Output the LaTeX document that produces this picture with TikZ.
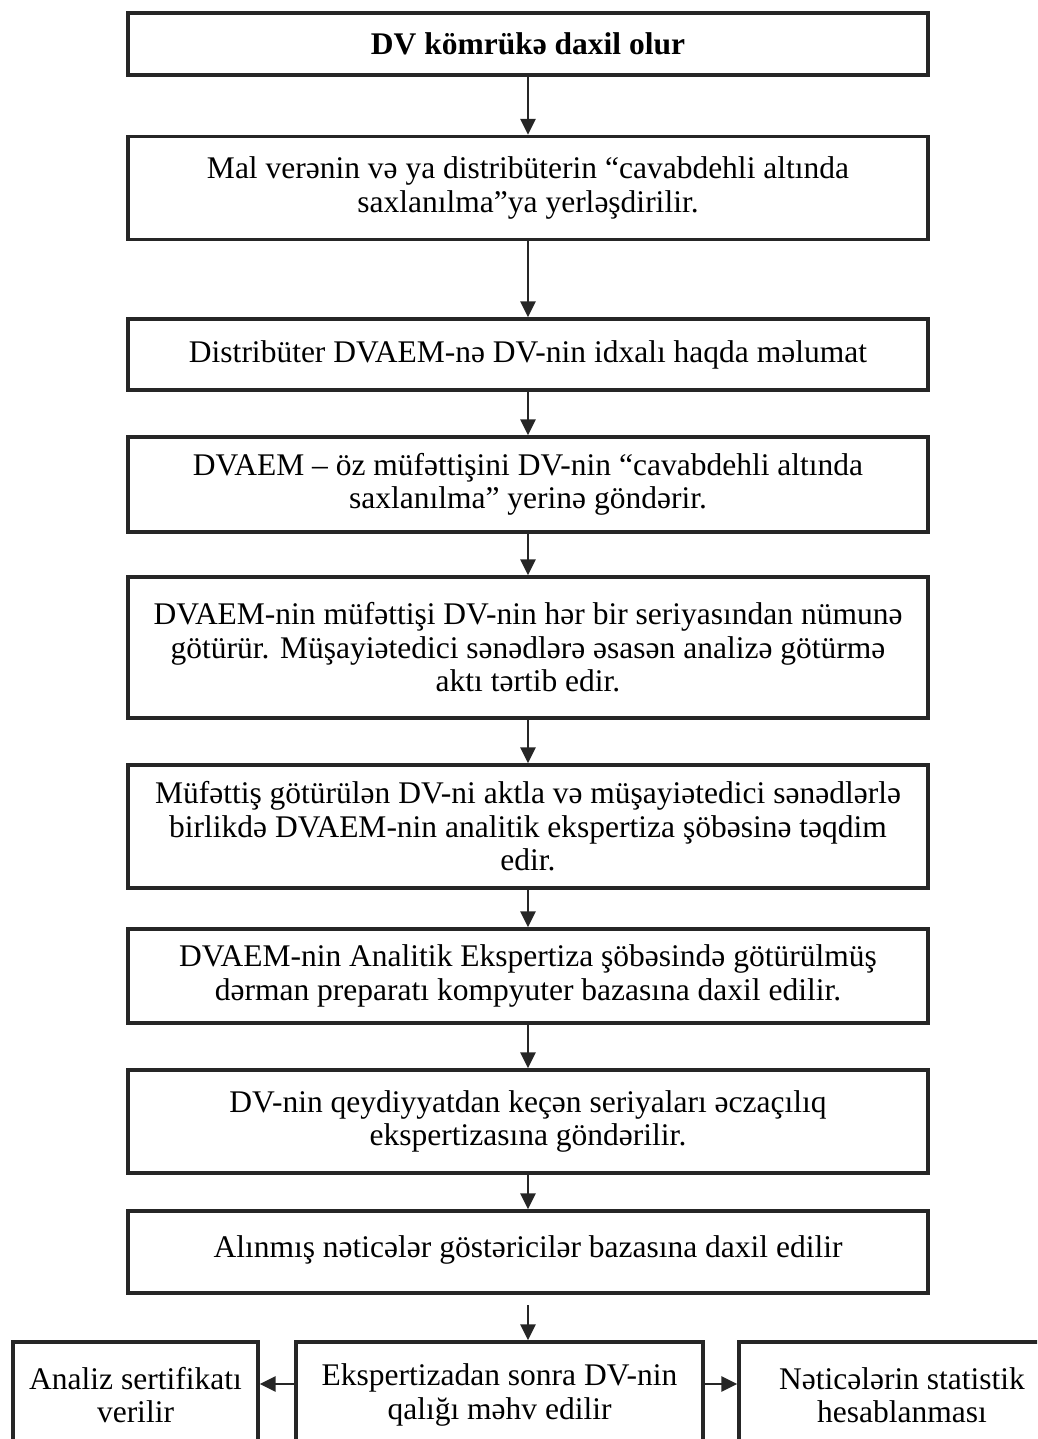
\documentclass[tikz,border=0pt]{standalone}
\usepackage{fontspec}
\setmainfont{Liberation Serif}
\usetikzlibrary{arrows.meta}
\begin{document}
\begin{tikzpicture}[x=1pt,y=-1pt,
  box/.style={draw=black!85, line width=3.4pt, minimum width=800pt, align=center, inner sep=0pt,
    font=\fontsize{31.5}{33.5}\selectfont},
  arr/.style={draw=black!85, line width=2.8pt, -{Triangle[length=16pt,width=15pt]}}]
\useasboundingbox (0,0) rectangle (1037,1439);
\clip (0,0) rectangle (1037,1439);
\node[box, minimum height=62pt] (b1) at (528,44) {\textbf{DV kömrükə daxil olur}};
\node[box, minimum height=103pt] (b2) at (528,188) {Mal verənin və ya distribüterin “cavabdehli altında\\saxlanılma”ya yerləşdirilir.};
\node[box, minimum height=71pt] (b3) at (528,354.5) {Distribüter DVAEM-nə DV-nin idxalı haqda məlumat};
\node[box, minimum height=95pt] (b4) at (528,484.5) {DVAEM – öz müfəttişini DV-nin “cavabdehli altında\\saxlanılma” yerinə göndərir.};
\node[box, minimum height=141pt] (b5) at (528,647.5) {DVAEM-nin müfəttişi DV-nin hər bir seriyasından nümunə\\götürür. Müşayiətedici sənədlərə əsasən analizə götürmə\\aktı tərtib edir.};
\node[box, minimum height=123pt] (b6) at (528,826.5) {Müfəttiş götürülən DV-ni aktla və müşayiətedici sənədlərlə\\birlikdə DVAEM-nin analitik ekspertiza şöbəsinə təqdim\\edir.};
\node[box, minimum height=94pt] (b7) at (528,976) {DVAEM-nin Analitik Ekspertiza şöbəsində götürülmüş\\dərman preparatı kompyuter bazasına daxil edilir.};
\node[box, minimum height=103pt] (b8) at (528,1121.5) {DV-nin qeydiyyatdan keçən seriyaları əczaçılıq\\ekspertizasına göndərilir.};
\node[box, minimum height=82pt] (b9) at (528,1252) {\raisebox{11pt}{Alınmış nəticələr göstəricilər bazasına daxil edilir}};
\node[box, minimum width=245pt, minimum height=106pt] (c1) at (135.5,1395) {Analiz sertifikatı\\verilir};
\node[box, minimum width=407pt, minimum height=106pt] (c2) at (499.5,1395) {Ekspertizadan sonra DV-nin\\qalığı məhv edilir};
\node[box, minimum width=326pt, minimum height=106pt] (c3) at (902,1395) {Nəticələrin statistik\\hesablanması};
\draw[arr] (b1) -- (b2);
\draw[arr] (b2) -- (b3);
\draw[arr] (b3) -- (b4);
\draw[arr] (b4) -- (b5);
\draw[arr] (b5) -- (b6);
\draw[arr] (b6) -- (b7);
\draw[arr] (b7) -- (b8);
\draw[arr] (b8) -- (b9);
\coordinate (t9) at (528,1305);
\draw[arr] (t9) -- (t9 |- c2.north);
\draw[arr] (c2.west |- 0,1384) -- (c1.east |- 0,1384);
\draw[arr] (c2.east |- 0,1384) -- (c3.west |- 0,1384);
\end{tikzpicture}
\end{document}
